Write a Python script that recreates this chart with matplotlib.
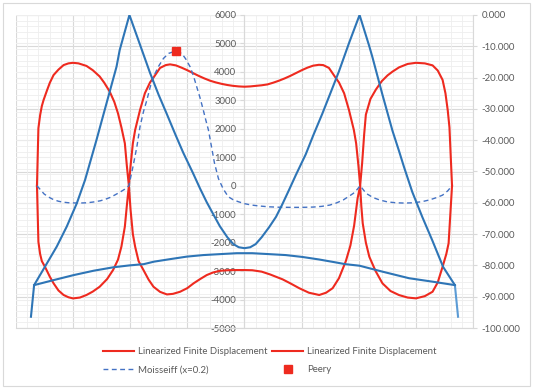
import matplotlib
matplotlib.use("Agg")
import matplotlib.pyplot as plt
from matplotlib.lines import Line2D
from matplotlib.patches import Rectangle
from matplotlib.ticker import MultipleLocator, FuncFormatter
from matplotlib.transforms import blended_transform_factory

plt.rcParams["font.family"] = ["Lato", "DejaVu Sans"]
plt.rcParams["axes.unicode_minus"] = False

# ---- data ----
# Linearized finite displacement, max moment envelope (primary axis)
lfd_max_x = [-725, -720, -714, -708, -702, -690, -680, -667, -650, -632, -615, -599, -580,
             -552, -530, -506, -490, -471, -455, -442, -430, -418, -411, -404,
             -398, -390, -382, -365, -348, -330, -318, -295, -275, -260, -240, -220, -200,
             -180, -160, -140, -120, -100, -80, -60, -40, -20, 0,
             20, 40, 60, 80, 100, 120, 140, 160, 180, 200, 220, 240, 260, 275, 295,
             318, 330, 348, 365, 382, 390, 398, 404,
             411, 418, 424, 440, 459, 480, 500, 517, 540, 570, 599, 630, 657, 675,
             692, 702, 710, 716, 725]
lfd_max = [0, 2020, 2480, 2800, 3010, 3350, 3620, 3890, 4080, 4240, 4300, 4320, 4300,
           4210, 4060, 3840, 3620, 3310, 2950, 2545, 2050, 1490, 700, 0,
           700, 1490, 1960, 2660, 3250, 3630, 3800, 4140, 4240, 4265, 4230, 4150, 4060,
           3960, 3860, 3770, 3690, 3630, 3580, 3540, 3510, 3490, 3480,
           3490, 3510, 3530, 3560, 3620, 3690, 3770, 3860, 3960, 4060, 4150, 4220, 4250, 4240, 4140,
           3800, 3630, 3250, 2660, 1960, 1490, 700, 0,
           800, 1800, 2500, 3050, 3380, 3680, 3880, 4010, 4160, 4280, 4320, 4300, 4230, 4050,
           3720, 3250, 2650, 2050, 0]

# Linearized finite displacement, min moment envelope (primary axis)
lfd_min_x = [-725, -720, -714, -708, -697, -680, -667, -650, -632, -615, -599, -575, -552,
             -530, -506, -480, -459, -442, -430, -418, -411, -404,
             -398, -390, -382, -370, -353, -335, -318, -295, -271, -250, -225, -200, -178,
             -155, -132, -110, -86, -60, -27, 0,
             27, 60, 90, 133, 160, 191, 225, 261, 285, 308, 330, 354, 370, 383, 395, 404,
             408, 413, 424, 436, 458, 482, 510, 540, 570, 599, 630, 657, 675, 692, 705, 713, 725]
lfd_min = [0, -1970, -2400, -2650, -2850, -3200, -3430, -3680, -3840, -3920, -3960, -3930, -3840,
           -3720, -3550, -3280, -2960, -2600, -2140, -1440, -700, 0,
           -850, -1700, -2144, -2650, -2963, -3300, -3550, -3730, -3820, -3800, -3726, -3600, -3431,
           -3280, -3140, -3050, -2990, -2970, -2963, -2963,
           -2970, -3020, -3120, -3290, -3430, -3600, -3760, -3840, -3760, -3600, -3250, -2650, -2100,
           -1400, -450, 0,
           -700, -1320, -2000, -2495, -3000, -3431, -3700, -3843, -3930, -3958, -3880, -3726, -3400,
           -2847, -2400, -2025, 0]

# Moisseiff (x=0.2) influence line (primary axis)
moi_x = [-725, -712, -700, -684, -667, -650, -632, -615, -597, -575, -551, -530, -504, -487,
         -469, -452, -434, -418, -404,
         -390, -376, -365, -353, -341, -330, -318, -300, -283, -265, -248, -235, -219, -205,
         -190, -178, -167, -155, -144, -135, -126, -114, -105, -91, -75, -57, -40, -22, 0,
         25, 50, 83, 120, 160, 200, 240, 270, 298, 320, 345, 365, 380, 392, 404,
         425, 450, 472, 500, 530, 560, 588, 620, 646, 670, 692, 710, 725]
moi = [0, -150, -290, -400, -490, -545, -580, -598, -605, -608, -600, -575, -530, -480,
       -410, -320, -220, -120, 0,
       650, 1370, 2075, 2600, 3012, 3450, 3830, 4200, 4475, 4650, 4710, 4700, 4650, 4450,
       4180, 3850, 3480, 3080, 2660, 2300, 1958, 1300, 800, 250, -100, -385, -490, -560, -630,
       -680, -710, -740, -755, -760, -760, -750, -725, -680, -610, -500, -370, -270, -150, 0,
       -270, -420, -500, -570, -600, -610, -600, -560, -500, -420, -330, -180, 0]

# Peery point (primary axis)
peery_x = [-240]
peery = [4720]

# Cable profile (secondary axis)
cable_x = [-746, -735, -697, -656, -621, -586, -557, -517, -482, -447, -436, -402,
           -365, -330, -300, -272, -240, -214, -180, -155, -132, -110, -86, -60, -39, -20, 0,
           20, 39, 60, 86, 110, 132, 155, 180, 214, 240, 272, 300, 330, 365, 402,
           436, 447, 482, 517, 540, 557, 586, 621, 656, 694, 735]
cable = [-96.4, -86.3, -80.4, -74.0, -67.6, -60.2, -52.7, -39.9, -28.2, -16.5, -11.2, 0,
         -9.5, -18.5, -25.5, -31.5, -38.5, -44.0, -50.5, -55.5, -59.8, -63.5, -67.5, -71.0, -73.2,
         -74.2, -74.5,
         -74.2, -73.2, -71.0, -67.8, -64.5, -60.5, -56.0, -51.0, -44.5, -38.5, -31.5, -25.0,
         -18.0, -9.0, 0,
         -10.0, -13.5, -25.5, -37.0, -43.5, -48.5, -56.5, -64.5, -72.0, -80.5, -86.3]
anchor_r_x = [735, 746]
anchor_r = [-86.3, -96.4]

# Deck profile (secondary axis)
deck_x = [-735, -667, -597, -527, -458, -402, -352, -316, -260, -202, -144, -86, -27, 0,
          27, 86, 144, 202, 260, 316, 352, 402, 482, 575, 657, 735]
deck = [-86.3, -84.7, -83.1, -81.7, -80.6, -80.0, -79.6, -78.8, -78.0, -77.2, -76.7, -76.4,
        -76.1, -76.1, -76.1, -76.4, -76.7, -77.3, -78.1, -79.0, -79.6, -80.1, -82.0, -84.1,
        -85.2, -86.3]

legend_labels = ["Linearized Finite Displacement", "Moisseiff (x=0.2)",
                 "Linearized Finite Displacement", "Peery"]

# ---- style ----
RED = "#EE2A1F"
BLUE = "#2E75B6"
DASH = "#4472C4"
TXT = "#595959"
GRID = "#D9D9D9"
GRID_LIGHT = "#EEEEEE"
FS = 6.9

W, H = 536, 391
fig = plt.figure(figsize=(W / 100, H / 100), dpi=100)
fig.patch.set_facecolor("white")

left, right, top, bottom = 15.5, 473.5, 15, 328
ax = fig.add_axes([left / W, 1 - bottom / H, (right - left) / W, (bottom - top) / H])
ax2 = ax.twinx()

ax.set_xlim(-800, 800)
ax.set_ylim(-5000, 6000)
ax2.set_ylim(-100, 0)

ax.xaxis.set_major_locator(MultipleLocator(200))
ax.xaxis.set_minor_locator(MultipleLocator(40))
ax.yaxis.set_major_locator(MultipleLocator(1000))
ax.yaxis.set_minor_locator(MultipleLocator(200))
ax2.yaxis.set_major_locator(MultipleLocator(10))

# gridlines (all drawn on the primary axes so they stay under the series)
ax.grid(which="minor", axis="both", color=GRID_LIGHT, lw=0.6, zorder=0)
ax.grid(which="major", axis="y", color=GRID_LIGHT, lw=0.8, zorder=0)
ax.grid(which="major", axis="x", color=GRID, lw=0.8, zorder=0)
ax.set_axisbelow(True)
sec_tr = blended_transform_factory(ax.transAxes, ax2.transData)
for v in range(-100, 1, 10):
    ax.plot([0, 1], [v, v], transform=sec_tr, color=GRID, lw=0.8, zorder=0.5)

# spines and ticks
for s in ["top", "right"]:
    ax.spines[s].set_visible(False)
ax.spines["left"].set_position(("data", 0))
ax.spines["left"].set_color(GRID)
ax.spines["bottom"].set_color(GRID)
ax.tick_params(axis="x", which="both", length=0, labelbottom=False)
ax.tick_params(axis="y", which="major", length=3, width=0.8, color=GRID,
               direction="out", pad=3, labelsize=FS, labelcolor=TXT)
ax.tick_params(axis="y", which="minor", length=0)
for lab in ax.get_yticklabels():
    lab.set_zorder(10)

for s in ["top", "left", "bottom"]:
    ax2.spines[s].set_visible(False)
ax2.spines["right"].set_color(GRID)
ax2.tick_params(axis="y", length=3, width=0.8, color=GRID, pad=3,
                labelsize=FS, labelcolor=TXT)
ax2.yaxis.set_major_formatter(FuncFormatter(lambda v, p: f"{v:.3f}"))

# series
ax.plot(lfd_max_x, lfd_max, color=RED, lw=1.5, zorder=3, solid_joinstyle="round")
ax.plot(lfd_min_x, lfd_min, color=RED, lw=1.5, zorder=3, solid_joinstyle="round")
ax.plot(moi_x, moi, color=DASH, lw=1.0, ls=(0, (3.5, 2.5)), zorder=3)
ax.plot(peery_x, peery, ls="none", marker="s", ms=6, color=RED, zorder=4)

ax2.plot(cable_x, cable, color=BLUE, lw=1.5, solid_joinstyle="round")
ax2.plot(anchor_r_x, anchor_r, color="#5B9BD5", lw=1.5)
ax2.plot(deck_x, deck, color=BLUE, lw=1.5, solid_joinstyle="round")

# legend
handles = [
    Line2D([], [], color=RED, lw=1.5),
    Line2D([], [], color=DASH, lw=1.0, ls=(0, (3.5, 2.5))),
    Line2D([], [], color=RED, lw=1.5),
    Line2D([], [], ls="none", marker="s", ms=6, color=RED),
]
fig.legend(handles, legend_labels, ncol=2, loc="upper left",
           bbox_to_anchor=(103 / W, 1 - 347 / H), frameon=False,
           fontsize=FS, labelcolor=TXT, handlelength=3.2, handletextpad=0.45,
           columnspacing=0.5, labelspacing=0.95, borderpad=0, borderaxespad=0)

# chart border
fig.patches.append(Rectangle((3 / W, 1 - 386 / H), 527 / W, 383 / H,
                             transform=fig.transFigure, fill=False,
                             edgecolor=GRID, lw=0.8))

fig.savefig("out.png", dpi=100)
